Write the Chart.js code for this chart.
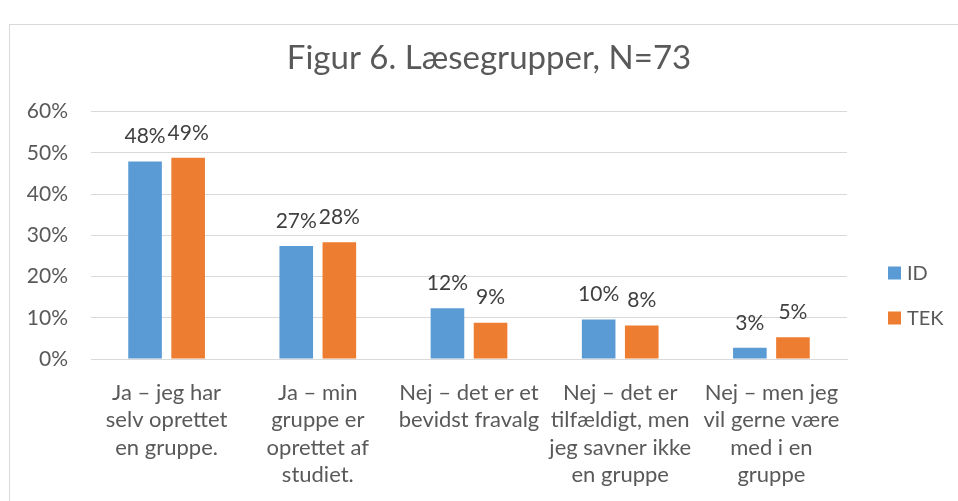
<!DOCTYPE html>
<html>
<head>
<meta charset="utf-8">
<script src="https://cdn.jsdelivr.net/npm/chart.js@4/dist/chart.umd.min.js"></script>
<style>
  html, body { margin: 0; padding: 0; background: #fff; }
  #wrap { position: relative; width: 958px; height: 501px; overflow: hidden; }
  #frame { position: absolute; left: 9px; top: 24px; width: 2000px; height: 2000px; border: 1px solid #d9d9d9; box-sizing: border-box; }
  #c { position: absolute; left: 0; top: 0; }
</style>
</head>
<body>
<div id="wrap">
  <div id="frame"></div>
  <canvas id="c" width="958" height="501"></canvas>
</div>
<script>
const categories = [
  ["Ja – jeg har", "selv oprettet", "en gruppe."],
  ["Ja – min", "gruppe er", "oprettet af", "studiet."],
  ["Nej – det er et", "bevidst fravalg"],
  ["Nej – det er", "tilfældigt, men", "jeg savner ikke", "en gruppe"],
  ["Nej – men jeg", "vil gerne være", "med i en", "gruppe"]
];
const seriesNames = ["ID", "TEK"];
const idValues = [47.9, 27.4, 12.3, 9.6, 2.7];
const tekValues = [48.8, 28.3, 8.8, 8.1, 5.3];
const yTicks = [0, 10, 20, 30, 40, 50, 60];
const colors = ["#5B9BD5", "#ED7D31"];
const FONT = "Lato";

const dataLabels = {
  id: 'dataLabels',
  afterDatasetsDraw(chart) {
    const ctx = chart.ctx;
    ctx.save();
    ctx.font = "21px " + FONT;
    ctx.fillStyle = "#404040";
    ctx.textAlign = "center";
    ctx.textBaseline = "middle";
    chart.data.datasets.forEach((ds, di) => {
      const meta = chart.getDatasetMeta(di);
      meta.data.forEach((el, i) => {
        ctx.fillText(Math.round(ds.data[i]) + "%", el.x, el.y - 25);
      });
    });
    ctx.restore();
  }
};

const customLegend = {
  id: 'customLegend',
  afterDraw(chart) {
    const ctx = chart.ctx;
    ctx.save();
    ctx.font = "20px " + FONT;
    ctx.textBaseline = "middle";
    ctx.textAlign = "left";
    const ys = [273, 318];
    chart.data.datasets.forEach((ds, di) => {
      ctx.fillStyle = ds.backgroundColor;
      ctx.fillRect(888, ys[di] - 6.5, 13, 13);
      ctx.fillStyle = "#595959";
      ctx.fillText(ds.label, 907, ys[di] + 1);
    });
    ctx.restore();
  }
};

new Chart(document.getElementById('c'), {
  type: 'bar',
  data: {
    labels: categories,
    datasets: [
      { label: seriesNames[0], data: idValues, backgroundColor: colors[0], categoryPercentage: 0.57, barPercentage: 0.78 },
      { label: seriesNames[1], data: tekValues, backgroundColor: colors[1], categoryPercentage: 0.57, barPercentage: 0.78 }
    ]
  },
  options: {
    responsive: false,
    animation: false,
    layout: { padding: { left: 20, right: 0, top: 0, bottom: 0 } },
    plugins: {
      legend: { display: false },
      tooltip: { enabled: false },
      title: {
        display: true,
        text: "Figur 6. Læsegrupper, N=73",
        color: "#595959",
        font: { family: FONT, size: 33, weight: 'normal', lineHeight: 1.2 },
        padding: { top: 39, bottom: 33 }
      }
    },
    scales: {
      x: {
        grid: { display: false, drawTicks: false },
        border: { display: true, color: "#d9d9d9", width: 1 },
        ticks: {
          color: "#595959",
          font: { family: FONT, size: 22, lineHeight: 1.25 },
          maxRotation: 0, minRotation: 0, autoSkip: false,
          padding: 20
        },
        afterFit(scale) { scale.height = 142; }
      },
      y: {
        min: 0, max: 60,
        afterBuildTicks(scale) { scale.ticks = yTicks.map(v => ({ value: v })); },
        grid: { color: "#d9d9d9", lineWidth: 1, drawTicks: false },
        border: { display: false },
        ticks: {
          color: "#595959",
          font: { family: FONT, size: 21 },
          padding: 23,
          callback: v => v + "%"
        },
        afterFit(scale) { scale.width = 71; }
      },
      legendSpace: {
        type: 'linear',
        position: 'right',
        display: true,
        grid: { display: false, drawTicks: false },
        border: { display: false },
        ticks: { display: false },
        afterFit(scale) { scale.width = 111; }
      }
    }
  },
  plugins: [dataLabels, customLegend]
});
</script>
</body>
</html>
